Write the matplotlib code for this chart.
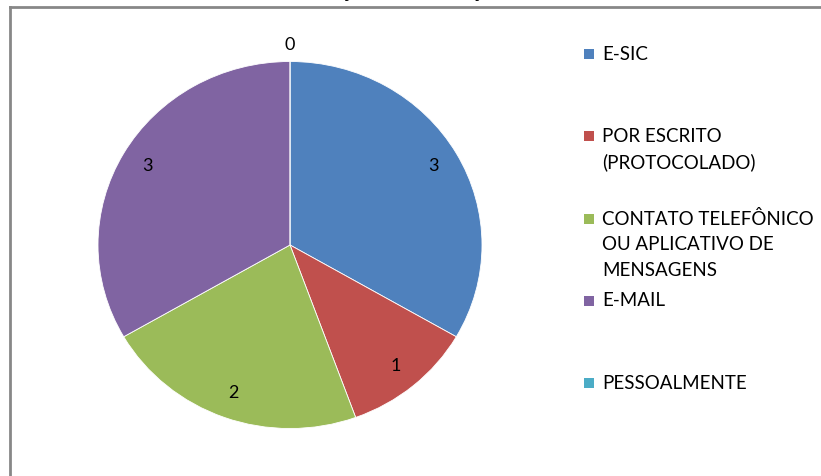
import numpy as np
import matplotlib
matplotlib.use("Agg")
import matplotlib.pyplot as plt
from matplotlib.lines import Line2D
from matplotlib.patches import Rectangle

categories = ["E-SIC", "POR ESCRITO\n(PROTOCOLADO)",
              "CONTATO TELEFÔNICO\nOU APLICATIVO DE\nMENSAGENS",
              "E-MAIL", "PESSOALMENTE"]
values = [3, 1, 2, 3, 0]
colors = ["#4F81BD", "#C0504D", "#9BBB59", "#8064A2", "#4BACC6"]
title = "Meios de solicitação de Informações – Outubro de 2020"

plt.rcParams['font.family'] = ['Lato', 'DejaVu Sans']

W, H = 821, 476
fig = plt.figure(figsize=(W / 100, H / 100), dpi=100)

def fx(px):
    return px / W

def fy(py):
    return 1 - py / H

# pie axes (slightly elliptical as in reference)
cx, cy, rx, ry = 290, 245, 192, 183.5
ax = fig.add_axes([fx(cx - rx), fy(cy + ry), 2 * rx / W, 2 * ry / H])
wedges, _ = ax.pie(values, colors=colors, startangle=90, counterclock=False,
                   wedgeprops=dict(edgecolor="white", linewidth=0.6))
ax.set_aspect('auto')
ax.set_xlim(-1, 1)
ax.set_ylim(-1, 1)
ax.axis('off')

for w, v in zip(wedges, values):
    ang = np.deg2rad((w.theta1 + w.theta2) / 2)
    d = 0.86 if v > 0 else 1.09
    ax.text(d * np.cos(ang), d * np.sin(ang), str(v), ha='center', va='center',
            fontsize=13, color='black', clip_on=False)

# frame lines (chart area border, partially visible)
fig.add_artist(Line2D([fx(10), fx(10)], [fy(7), fy(480)], color="#878787", lw=2))
fig.add_artist(Line2D([fx(10), fx(830)], [fy(7), fy(7)], color="#878787", lw=2))

# title (clipped at the top of the image, as in the reference)
fig.text(fx(440), fy(-2), title, ha='center', va='baseline', fontsize=14,
         fontweight='bold')

# legend drawn manually
row0, rowstep, linestep = 54, 82.3, 26
for i, (lab, col) in enumerate(zip(categories, colors)):
    y0 = row0 + i * rowstep
    fig.add_artist(Rectangle((fx(584), fy(y0 + 5)), 10 / W, 10 / H,
                             facecolor=col, edgecolor='none'))
    for j, line in enumerate(lab.split("\n")):
        fig.text(fx(602), fy(y0 + j * linestep), line, ha='left', va='center',
                 fontsize=13.5, color='black')

fig.savefig("out.png", dpi=100)
